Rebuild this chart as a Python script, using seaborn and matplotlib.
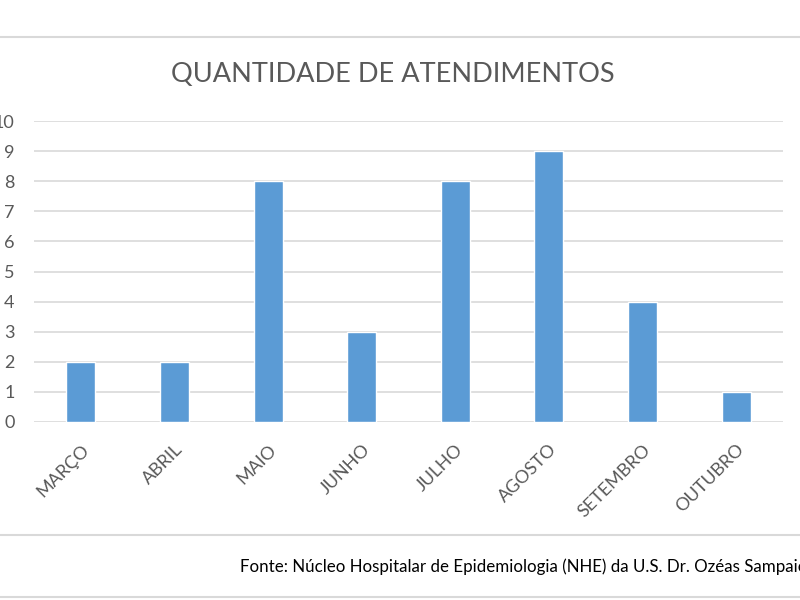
import matplotlib
matplotlib.use("Agg")
import matplotlib.pyplot as plt
from matplotlib.lines import Line2D
import seaborn as sns
import pandas as pd

meses = ["MARÇO", "ABRIL", "MAIO", "JUNHO", "JULHO", "AGOSTO", "SETEMBRO", "OUTUBRO"]
atendimentos = [2, 2, 8, 3, 8, 9, 4, 1]
yticks = list(range(0, 11))
titulo = "QUANTIDADE DE ATENDIMENTOS"
fonte = "Fonte: Núcleo Hospitalar de Epidemiologia (NHE) da U.S. Dr. Ozéas Sampaio"

sns.set_style("white")
plt.rcParams["font.family"] = ["Lato", "DejaVu Sans"]

df = pd.DataFrame({"mes": meses, "n": atendimentos})

fig = plt.figure(figsize=(8, 6), dpi=100)
ax = fig.add_axes([34/800, 1 - 422/600, (783 - 34)/800, (422 - 121)/600])

sns.barplot(data=df, x="mes", y="n", color="#5B9BD5", width=0.31,
            saturation=1, ax=ax, zorder=3)

ax.set_ylim(0, 10)
ax.set_xlim(-0.5, len(meses) - 0.5)
ax.set_yticks(yticks)
ax.yaxis.grid(True, color="#D9D9D9", linewidth=1.2, zorder=0)
ax.set_axisbelow(True)
for s in ax.spines.values():
    s.set_visible(False)
ax.tick_params(axis="both", length=0, colors="#595959", labelsize=13)
ax.tick_params(axis="y", pad=14)
ax.tick_params(axis="x", pad=14)
ax.set_xlabel("")
ax.set_ylabel("")
plt.setp(ax.get_xticklabels(), rotation=45, ha="right", va="top",
         rotation_mode="anchor")
for lbl in ax.get_xticklabels():
    lbl.set_x(lbl.get_position()[0])

fig.text(393/800, 1 - 75/600, titulo, ha="center", va="center",
         fontsize=19.5, color="#595959")
fig.text(240/800, 1 - 567/600, fonte, ha="left", va="center",
         fontsize=12.2, color="#000000")

for yy in [37, 535, 597]:
    fig.add_artist(Line2D([0, 1], [1 - yy/600, 1 - yy/600],
                          transform=fig.transFigure, color="#D9D9D9",
                          linewidth=1.5))

fig.savefig("out.png", dpi=100)
